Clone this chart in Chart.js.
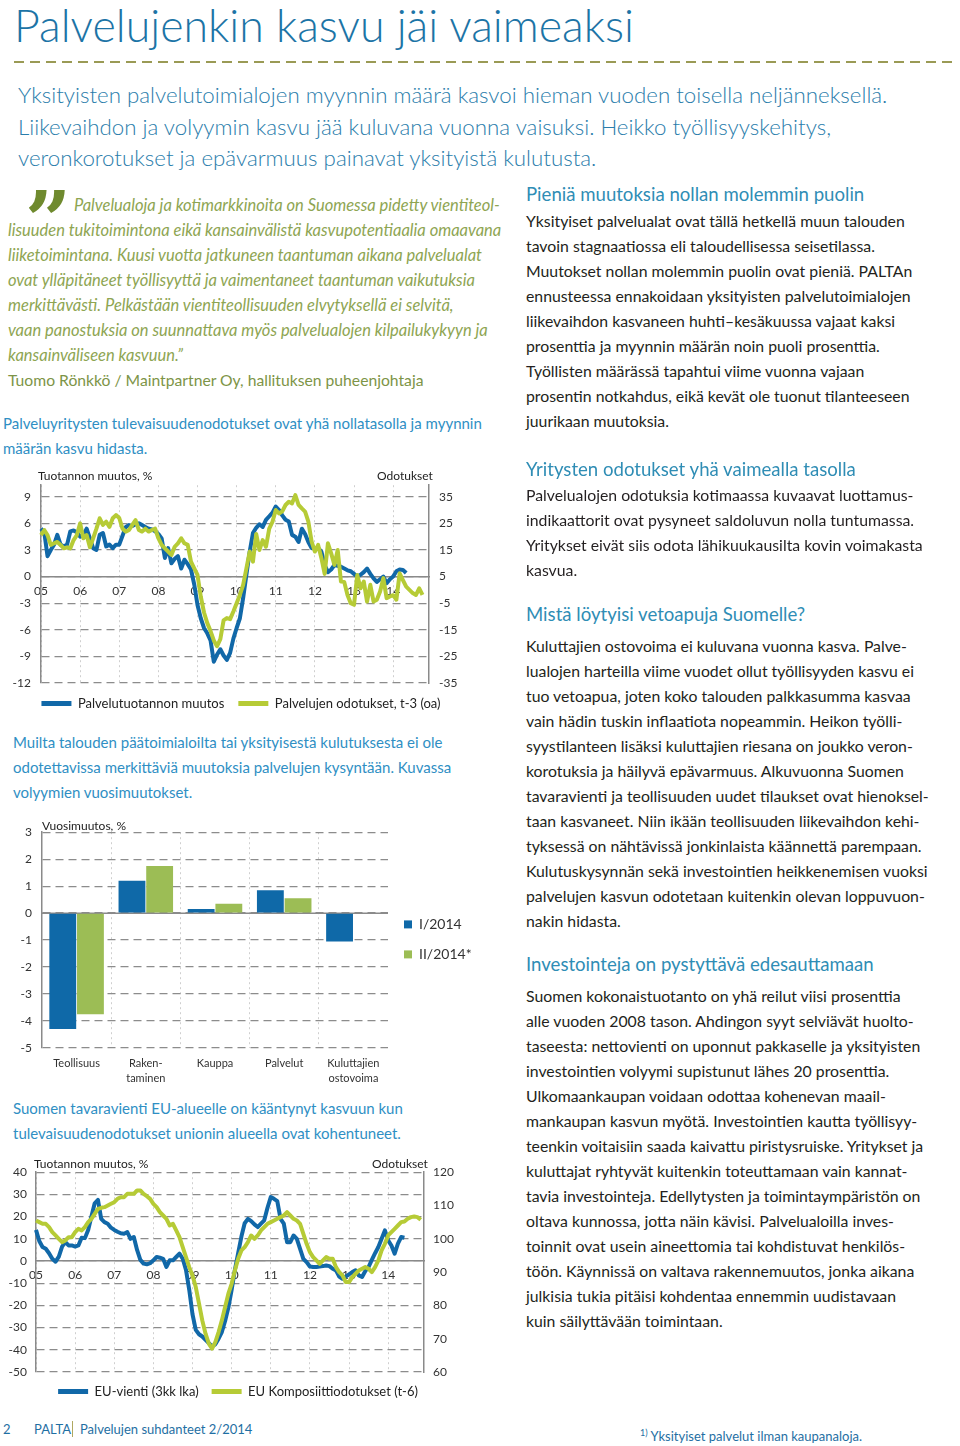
<!DOCTYPE html>
<html lang="fi">
<head>
<meta charset="utf-8">
<title>Palvelujenkin kasvu jäi vaimeaksi</title>
<script src="https://cdn.jsdelivr.net/npm/chart.js@4.4.1/dist/chart.umd.min.js"></script>
<style>
  html, body { margin: 0; padding: 0; background: #fff; }
  body { width: 960px; height: 1446px; position: relative; overflow: hidden; font-family: Lato, "Open Sans", sans-serif; }
  .abs { position: absolute; white-space: nowrap; }
  canvas { position: absolute; }
  #title { left: 14px; top: 0px; font-size: 44.7px; line-height: 50px; color: #1c74a6; font-weight: 300; }
  #rule { left: 14px; top: 61px; width: 941px; height: 2px;
          background: repeating-linear-gradient(to right, #9a9a55 0 10px, transparent 10px 16px); }
  #lead { left: 18px; top: 79px; font-size: 22.3px; line-height: 31.5px; color: #2a7dab; font-weight: 300; }
  #quote { left: 8px; top: 192.5px; font-size: 16.5px; line-height: 25px; color: #8ea552; font-style: italic; }
  #quote .first { padding-left: 66px; }
  #quote .who { font-style: normal; color: #7d9447; font-size: 15.7px; }
  #qmark { left: 25px; top: 181px; font-family: "DejaVu Serif", serif; font-weight: bold; font-size: 80px; line-height: 80px; color: #6f8a2e; }
  .cap { font-size: 15px; line-height: 25px; color: #2f8fc4; }
  .ctitle { font-size: 12px; line-height: 16px; color: #222; }
  .head { left: 526px; font-size: 18.6px; line-height: 24px; color: #2f8db5; }
  .body { left: 526px; font-size: 15.8px; line-height: 25px; color: #231f20; }
  .foot { font-size: 13px; line-height: 18px; color: #1f6fa3; }
</style>
</head>
<body>

<canvas id="chart1" width="458" height="252" style="left:12px; top:468px;"></canvas>
<canvas id="chart2" width="480" height="275" style="left:0; top:815px;"></canvas>
<canvas id="chart3" width="464" height="252" style="left:6px; top:1156px;"></canvas>

<div id="title" class="abs">Palvelujenkin kasvu jäi vaimeaksi</div>
<div id="rule" class="abs"></div>

<div id="lead" class="abs">Yksityisten palvelutoimialojen myynnin määrä kasvoi hieman vuoden toisella neljänneksellä.<br>Liikevaihdon ja volyymin kasvu jää kuluvana vuonna vaisuksi. Heikko työllisyyskehitys,<br>veronkorotukset ja epävarmuus painavat yksityistä kulutusta.</div>

<div id="qmark" class="abs">”</div>
<div id="quote" class="abs"><span class="first">Palvelualoja ja kotimarkkinoita on Suomessa pidetty vientiteol-</span><br>lisuuden tukitoimintona eikä kansainvälistä kasvupotentiaalia omaavana<br>liiketoimintana. Kuusi vuotta jatkuneen taantuman aikana palvelualat<br>ovat ylläpitäneet työllisyyttä ja vaimentaneet taantuman vaikutuksia<br>merkittävästi. Pelkästään vientiteollisuuden elvytyksellä ei selvitä,<br>vaan panostuksia on suunnattava myös palvelualojen kilpailukykyyn ja<br>kansainväliseen kasvuun.”<br><span class="who">Tuomo Rönkkö / Maintpartner Oy, hallituksen puheenjohtaja</span></div>

<div class="abs cap" style="left:3px; top:410.5px;">Palveluyritysten tulevaisuudenodotukset ovat yhä nollatasolla ja myynnin<br>määrän kasvu hidasta.</div>
<div class="abs ctitle" style="left:38px; top:468px;">Tuotannon muutos, %</div>
<div class="abs ctitle" style="left:377px; top:468px;">Odotukset</div>

<div class="abs cap" style="left:13px; top:729.5px;">Muilta talouden päätoimialoilta tai yksityisestä kulutuksesta ei ole<br>odotettavissa merkittäviä muutoksia palvelujen kysyntään. Kuvassa<br>volyymien vuosimuutokset.</div>
<div class="abs ctitle" style="left:42px; top:818px;">Vuosimuutos, %</div>

<div class="abs cap" style="left:13px; top:1095.5px;">Suomen tavaravienti EU-alueelle on kääntynyt kasvuun kun<br>tulevaisuudenodotukset unionin alueella ovat kohentuneet.</div>
<div class="abs ctitle" style="left:34px; top:1156px;">Tuotannon muutos, %</div>
<div class="abs ctitle" style="left:372px; top:1156px;">Odotukset</div>

<div class="abs head" style="top:182px;">Pieniä muutoksia nollan molemmin puolin</div>
<div class="abs body" style="top:207.5px;">Yksityiset palvelualat ovat tällä hetkellä muun talouden<br>tavoin stagnaatiossa eli taloudellisessa seisetilassa.<br>Muutokset nollan molemmin puolin ovat pieniä. PALTAn<br>ennusteessa ennakoidaan yksityisten palvelutoimialojen<br>liikevaihdon kasvaneen huhti–kesäkuussa vajaat kaksi<br>prosenttia ja myynnin määrän noin puoli prosenttia.<br>Työllisten määrässä tapahtui viime vuonna vajaan<br>prosentin notkahdus, eikä kevät ole tuonut tilanteeseen<br>juurikaan muutoksia.</div>

<div class="abs head" style="top:457px;">Yritysten odotukset yhä vaimealla tasolla</div>
<div class="abs body" style="top:481.5px;">Palvelualojen odotuksia kotimaassa kuvaavat luottamus-<br>indikaattorit ovat pysyneet saldoluvun nolla tuntumassa.<br>Yritykset eivät siis odota lähikuukausilta kovin voimakasta<br>kasvua.</div>

<div class="abs head" style="top:602px;">Mistä löytyisi vetoapuja Suomelle?</div>
<div class="abs body" style="top:632.5px;">Kuluttajien ostovoima ei kuluvana vuonna kasva. Palve-<br>lualojen harteilla viime vuodet ollut työllisyyden kasvu ei<br>tuo vetoapua, joten koko talouden palkkasumma kasvaa<br>vain hädin tuskin inflaatiota nopeammin. Heikon työlli-<br>syystilanteen lisäksi kuluttajien riesana on joukko veron-<br>korotuksia ja häilyvä epävarmuus. Alkuvuonna Suomen<br>tavaravienti ja teollisuuden uudet tilaukset ovat hienoksel-<br>taan kasvaneet. Niin ikään teollisuuden liikevaihdon kehi-<br>tyksessä on nähtävissä jonkinlaista käännettä parempaan.<br>Kulutuskysynnän sekä investointien heikkenemisen vuoksi<br>palvelujen kasvun odotetaan kuitenkin olevan loppuvuon-<br>nakin hidasta.</div>

<div class="abs head" style="top:952px;">Investointeja on pystyttävä edesauttamaan</div>
<div class="abs body" style="top:982.5px;">Suomen kokonaistuotanto on yhä reilut viisi prosenttia<br>alle vuoden 2008 tason. Ahdingon syyt selviävät huolto-<br>taseesta: nettovienti on uponnut pakkaselle ja yksityisten<br>investointien volyymi supistunut lähes 20 prosenttia.<br>Ulkomaankaupan voidaan odottaa kohenevan maail-<br>mankaupan kasvun myötä. Investointien kautta työllisyy-<br>teenkin voitaisiin saada kaivattu piristysruiske. Yritykset ja<br>kuluttajat ryhtyvät kuitenkin toteuttamaan vain kannat-<br>tavia investointeja. Edellytysten ja toimintaympäristön on<br>oltava kunnossa, jotta näin kävisi. Palvelualoilla inves-<br>toinnit ovat usein aineettomia tai kohdistuvat henkilös-<br>töön. Käynnissä on valtava rakennemuutos, jonka aikana<br>julkisia tukia pitäisi kohdentaa ennemmin uudistavaan<br>kuin säilyttävään toimintaan.</div>

<div class="abs foot" style="left:3px; top:1420px;">2</div>
<div class="abs foot" style="left:34px; top:1420px;">PALTA</div>
<div class="abs" style="left:72px; top:1421px; width:1px; height:16px; background:#b0a860;"></div>
<div class="abs foot" style="left:80px; top:1420px;">Palvelujen suhdanteet 2/2014</div>
<div class="abs foot" style="left:640px; top:1424px;"><sup style="font-size:9px;">1)</sup> Yksityiset palvelut ilman kaupanaloja.</div>

<script>
// Year tick labels shared by both line charts (monthly data from Jan 2005)
const years = ['05', '06', '07', '08', '09', '10', '11', '12', '13', '14'];
const months = [];
years.forEach(y => { for (let m = 1; m <= 12; m++) months.push(y + '/' + m); });

// Chart 1: services output change (left axis) and expectations t-3 (right axis)
const serviceOutput = [
  5.4, 5.0, 2.3, 3.0, 3.6, 4.7, 3.6, 3.4, 3.6, 5.1, 5.2, 5.0,
  4.5, 4.7, 5.4, 4.3, 3.2, 3.0, 4.7, 4.9, 3.4, 3.6, 3.2, 3.6,
  3.6, 4.6, 5.6, 5.8, 5.7, 5.9, 6.0, 5.8, 5.6, 5.4, 5.3, 5.1,
  4.8, 4.3, 2.1, 3.2, 1.5, 2.0, 2.3, 0.9, 1.9, 1.4, 0.8, -0.9,
  -3.2, -4.7, -5.8, -6.4, -7.2, -9.6, -8.8, -8.2, -8.9, -9.4, -8.6, -7.0,
  -5.8, -4.7, -2.4, 0.2, 2.8, 4.9, 5.5, 5.9, 5.6, 6.4, 6.8, 7.2,
  7.9, 7.5, 6.9, 6.4, 6.2, 4.7, 4.5, 3.9, 5.4, 4.8, 3.9, 3.2,
  3.2, 3.2, 2.8, 1.3, 0.5, 0.8, 1.3, 1.2, 1.1, 0.9, 0.7, 0.6,
  0.3, 0.0, 0.2, 0.5, 0.9, 0.3, -0.2, -0.6, -0.3, 0.0, -0.75, -0.3,
  0.0, 0.6, 0.8, 0.75, 0.4
];
const serviceExpect = [
  20.6, 22.5, 20.6, 16.9, 17.5, 18.0, 16.9, 15.6, 16.0, 15.6, 18.7, 20.6,
  25.0, 19.4, 20.6, 16.0, 19.4, 23.0, 26.9, 24.4, 25.6, 23.7, 26.9, 28.1,
  27.0, 23.0, 21.9, 22.5, 24.4, 26.2, 22.5, 21.9, 23.0, 21.9, 22.5, 23.0,
  19.4, 16.9, 15.6, 14.4, 13.1, 16.2, 17.5, 19.4, 17.5, 16.9, 10.6, 8.1,
  5.6, -2.5, -8.5, -12.5, -15.5, -19.0, -21.2, -18.5, -11.5, -10.6, -11.0, -8.1,
  -5.0, -1.9, 1.9, 8.1, 14.4, 10.6, 21.0, 15.0, 18.7, 16.2, 23.0, 25.6,
  30.0, 28.7, 29.5, 31.9, 33.1, 32.5, 35.6, 31.9, 30.6, 29.4, 25.6, 18.1,
  14.4, 16.9, 11.9, 6.0, 17.5, 13.7, 9.4, 15.0, 3.1, 3.0, -1.9, -5.0,
  -5.6, 5.6, 0.6, 3.1, -4.4, 1.9, -4.4, -3.7, -0.6, 4.4, -3.1, -2.5,
  -2.0, -3.7, 6.2, 3.7, 1.2, 0.0, -1.2, -1.9, 0.6, -1.9
];
const ticks1Left = [-12, -9, -6, -3, 0, 3, 6, 9];
const ticks1Right = [-35, -25, -15, -5, 5, 15, 25, 35];

// Chart 2: annual volume change, %
const sectors = ['Teollisuus', ['Raken-', 'taminen'], 'Kauppa', 'Palvelut', ['Kuluttajien', 'ostovoima']];
const q1_2014 = [-4.3, 1.2, 0.15, 0.85, -1.05];
const q2_2014 = [-3.75, 1.75, 0.35, 0.55, 0.02];
const ticks2 = [-5, -4, -3, -2, -1, 0, 1, 2, 3];

// Chart 3: EU exports (left axis) and EU composite expectations t-6 (right axis)
const euExports = [
  14, 9, 6.3, 5.5, 3.5, 1, -0.3, 2, 6.5, 8.5, 7, 7,
  6.5, 7, 10.5, 10.3, 14, 20, 26, 27.5, 19, 17.5, 16.8, 15,
  14, 13.2, 12.5, 12.3, 13, 10, 10.8, 5, 0.5, -1.2, -1.5, -1,
  0.3, 1.8, 1.5, 1, -2.7, 0.3, 0.3, 1.8, 3.3, 1, -4, -13,
  -24, -31, -33, -34, -35.5, -37, -38.5, -37.5, -35, -32, -27, -21,
  -13, -4, 3.5, 11, 17, 19, 18, 16.5, 15.3, 16.8, 18.3, 24,
  28.8, 28, 27, 19, 16.8, 8.5, 8.5, 11.5, 10, 5.5, 1, -0.5,
  -2.5, -2.7, -2.7, -2.5, -2.3, -2, -2.3, -3.5, -4.2, -7, -8, -7,
  -6, -5, -4.2, -6.5, -7.2, -4.5, -2.7, 0.5, 3.5, 6.3, 10, 13.8,
  9.3, 7, 3.3, 7.8, 10.8, 10.5
];
const euExpect = [
  105.5, 105, 104.5, 104.5, 103.5, 102, 101, 100, 99, 99.5, 100.5, 100.5,
  102, 103, 102.5, 103.5, 105, 106, 107.5, 109, 109.3, 109.5, 110, 110.5,
  111, 112, 112.5, 112.5, 113.5, 113.5, 113.5, 114.5, 114.5, 113.5, 112.8, 112,
  110.5, 109.5, 108, 107, 106, 104, 104.5, 102.5, 100.5, 97.5, 94.5, 91.5,
  89, 85.5, 80.5, 75.5, 71.5, 68.5, 67, 69, 72, 75.5, 79.5, 83.5,
  86.5, 90.5, 94, 96.5, 97.5, 99, 101, 100, 101, 102.5, 103.5, 104.5,
  105, 105.5, 106, 106.5, 107, 108, 107, 106, 105.5, 104.5, 101.5, 98.5,
  96, 94.5, 93.5, 92.5, 93.5, 94.5, 94, 94, 91.5, 90, 89, 87,
  87, 88.5, 89.5, 90.5, 91, 91.5, 91, 90, 91.5, 93.5, 96.5, 98.5,
  101, 102, 103, 104, 105, 105.2, 106, 106.5, 106.7, 106.5, 105.7
];
const ticks3Left = [-50, -40, -30, -20, -10, 0, 10, 20, 30, 40];
const ticks3Right = [60, 70, 80, 90, 100, 110, 120];

const BLUE = '#1168a8';
const LIME = '#b6cb36';
const BAR_BLUE = '#0f69a8';
const BAR_GREEN = '#9cbd55';

Chart.defaults.font.family = 'Lato, "Open Sans", sans-serif';
Chart.defaults.color = '#333';
Chart.defaults.animation = false;

// legend boxes drawn as flat bars, kept in dataset order
function flatLegendLabels(chart) {
  return Chart.defaults.plugins.legend.labels.generateLabels(chart)
    .map(l => Object.assign(l, { lineWidth: 0 }));
}

function setTicks(values) {
  return axis => { axis.ticks = values.map(v => ({ value: v })); };
}

function lineChart(id, opts) {
  const ctx = document.getElementById(id).getContext('2d');
  return new Chart(ctx, {
    type: 'line',
    data: {
      labels: months,
      datasets: [{
        label: opts.names[0],
        data: opts.left,
        yAxisID: 'y',
        borderColor: BLUE,
        backgroundColor: BLUE,
        borderWidth: 4,
        pointRadius: 0,
        borderJoinStyle: 'round',
        order: 1
      }, {
        label: opts.names[1],
        data: opts.right,
        yAxisID: 'y1',
        borderColor: LIME,
        backgroundColor: LIME,
        borderWidth: 4,
        pointRadius: 0,
        borderJoinStyle: 'round',
        order: 0
      }]
    },
    options: {
      responsive: false,
      layout: { padding: { top: opts.padTop, left: 0, right: 0, bottom: 0 } },
      scales: {
        x: {
          type: 'category',
          position: { y: 0 },
          ticks: {
            autoSkip: false,
            maxRotation: 0,
            padding: 7,
            font: { size: 12 },
            callback: (v, i) => (i % 12 === 0 ? years[i / 12] : '')
          },
          grid: {
            drawTicks: false,
            lineWidth: 1,
            color: c => (c.type === 'tick' && c.index % 12 === 0 ? '#cfcfcf' : 'rgba(0,0,0,0)')
          },
          border: { display: true, color: '#8a8a8a', width: 1.5, dash: [2, 3] }
        },
        y: {
          min: opts.leftMin, max: opts.leftMax,
          afterBuildTicks: setTicks(opts.leftTicks),
          afterFit: axis => { axis.width = opts.leftWidth; },
          ticks: { padding: opts.tickPad, font: { size: 12 } },
          grid: { drawTicks: false, color: '#8c8c8c', lineWidth: 1.3 },
          border: { display: true, color: '#8a8a8a', width: 1.5, dash: [8, 5] }
        },
        y1: {
          position: 'right',
          min: opts.rightMin, max: opts.rightMax,
          afterBuildTicks: setTicks(opts.rightTicks),
          afterFit: axis => { axis.width = opts.rightWidth; },
          ticks: { padding: opts.tickPad, font: { size: 12 } },
          grid: { drawOnChartArea: false, drawTicks: false },
          border: { display: true, color: '#8a8a8a', width: 1.5 }
        }
      },
      plugins: {
        legend: {
          position: 'bottom',
          labels: {
            boxWidth: 30, boxHeight: 5, padding: opts.legendPad,
            color: '#222', font: { size: 13 },
            generateLabels: flatLegendLabels,
            sort: (a, b) => a.datasetIndex - b.datasetIndex
          }
        },
        tooltip: { enabled: false }
      }
    }
  });
}

lineChart('chart1', {
  names: ['Palvelutuotannon muutos', 'Palvelujen odotukset, t-3 (oa)'],
  left: serviceOutput, right: serviceExpect,
  leftMin: -12, leftMax: 10.3, leftTicks: ticks1Left,
  rightMin: -35, rightMax: 39.33, rightTicks: ticks1Right,
  leftWidth: 29, rightWidth: 41, tickPad: 10, padTop: 10, legendPad: 14
});

lineChart('chart3', {
  names: ['EU-vienti (3kk lka)', 'EU Komposiittiodotukset (t-6)'],
  left: euExports, right: euExpect,
  leftMin: -50, leftMax: 40, leftTicks: ticks3Left,
  rightMin: 60, rightMax: 120, rightTicks: ticks3Right,
  leftWidth: 30, rightWidth: 46, tickPad: 9, padTop: 12, legendPad: 13
});

// solid line at zero for the bar chart
const zeroLine = {
  id: 'zeroLine',
  beforeDatasetsDraw(chart) {
    const { ctx, chartArea, scales } = chart;
    const y = scales.y.getPixelForValue(0);
    ctx.save();
    ctx.strokeStyle = '#8a8a8a';
    ctx.lineWidth = 1.5;
    ctx.beginPath();
    ctx.moveTo(chartArea.left, y);
    ctx.lineTo(chartArea.right, y);
    ctx.stroke();
    ctx.restore();
  }
};

new Chart(document.getElementById('chart2').getContext('2d'), {
  type: 'bar',
  data: {
    labels: sectors,
    datasets: [{
      label: 'I/2014',
      data: q1_2014,
      backgroundColor: BAR_BLUE,
      categoryPercentage: 0.8,
      barPercentage: 0.97
    }, {
      label: 'II/2014*',
      data: q2_2014,
      backgroundColor: BAR_GREEN,
      categoryPercentage: 0.8,
      barPercentage: 0.97
    }]
  },
  options: {
    responsive: false,
    layout: { padding: { top: 16, left: 0, right: 0, bottom: 8 } },
    scales: {
      x: {
        afterFit: axis => { axis.height = 34; },
        ticks: { padding: 8, maxRotation: 0, font: { size: 11, lineHeight: 1.35 } },
        grid: {
          drawTicks: false,
          color: c => (c.type === 'tick' ? '#cfcfcf' : 'rgba(0,0,0,0)')
        },
        border: { display: false, dash: [2, 3] }
      },
      y: {
        min: -5, max: 3,
        afterBuildTicks: setTicks(ticks2),
        afterFit: axis => { axis.width = 42; },
        ticks: { padding: 10, font: { size: 12 } },
        grid: { drawTicks: false, color: '#8c8c8c', lineWidth: 1.3 },
        border: { display: true, color: '#8a8a8a', width: 1.5, dash: [8, 5] }
      }
    },
    plugins: {
      legend: {
        position: 'right',
        align: 'start',
        maxWidth: 92,
        title: { display: true, text: '', font: { size: 12 }, padding: { top: 56, bottom: 0 } },
        labels: { boxWidth: 8, boxHeight: 8, padding: 16, color: '#333', font: { size: 14 } }
      },
      tooltip: { enabled: false }
    }
  },
  plugins: [zeroLine]
});
</script>
</body>
</html>
